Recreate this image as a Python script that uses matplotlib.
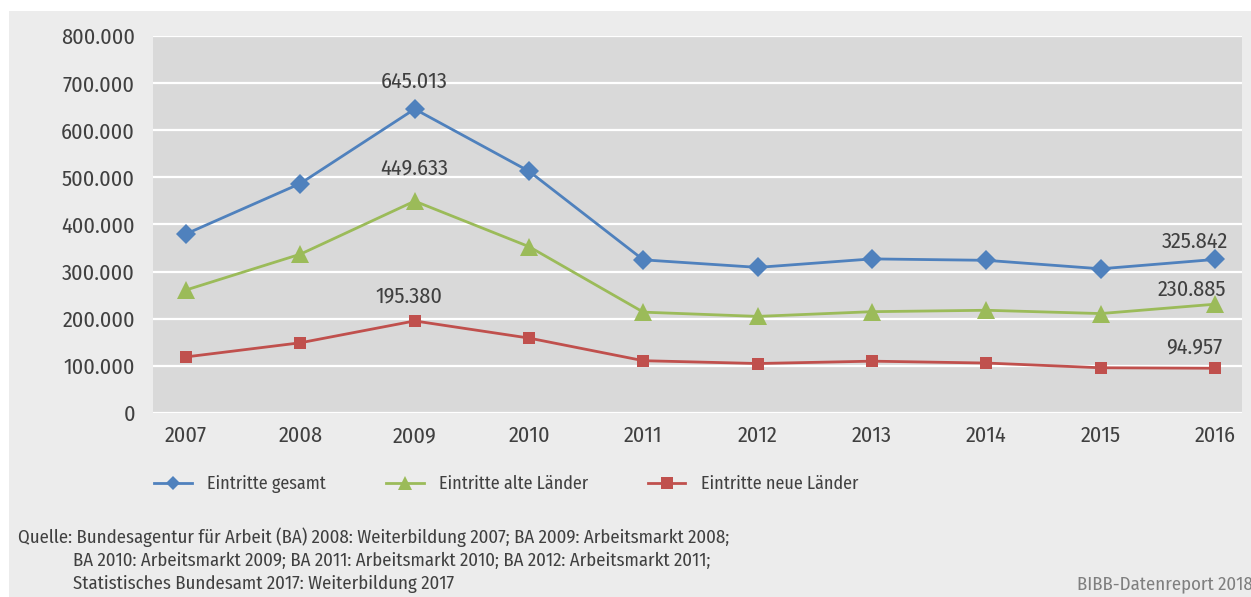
import matplotlib
matplotlib.use("Agg")
import matplotlib.pyplot as plt
from matplotlib.patches import Rectangle
from matplotlib.ticker import FuncFormatter

years = [2007, 2008, 2009, 2010, 2011, 2012, 2013, 2014, 2015, 2016]
gesamt = [380000, 487000, 645013, 513000, 325000, 309000, 327000, 324000, 306000, 325842]
alte = [261000, 337000, 449633, 353000, 214000, 205000, 215000, 218000, 211000, 230885]
neue = [119000, 149000, 195380, 159000, 111000, 105000, 110000, 106000, 96000, 94957]
series_names = ["Eintritte gesamt", "Eintritte alte Länder", "Eintritte neue Länder"]
yticks = [0, 100000, 200000, 300000, 400000, 500000, 600000, 700000, 800000]
source_lines = [
    "Quelle: Bundesagentur für Arbeit (BA) 2008: Weiterbildung 2007; BA 2009: Arbeitsmarkt 2008;",
    "BA 2010: Arbeitsmarkt 2009; BA 2011: Arbeitsmarkt 2010; BA 2012: Arbeitsmarkt 2011;",
    "Statistisches Bundesamt 2017: Weiterbildung 2017",
]
footer = "BIBB-Datenreport 2018"

W, H = 1251, 597
fig = plt.figure(figsize=(W / 100, H / 100), dpi=100, facecolor="white")
fig.patches.append(Rectangle((9 / W, 0), 1 - 9 / W, 1 - 11 / H, transform=fig.transFigure,
                             facecolor="#ececec", edgecolor="none", zorder=-10))

num_font = ["Fira Sans Condensed", "DejaVu Sans"]
txt_font = ["Fira Sans Condensed", "DejaVu Sans"]
txt_col = "#404040"
num_size = 16

ax = fig.add_axes([153 / W, 1 - 413 / H, (1242 - 153) / W, (413 - 36) / H])
ax.set_facecolor("#d9d9d9")
for s in ax.spines.values():
    s.set_visible(False)

def fmt(v, pos=None):
    return f"{int(round(v)):,}".replace(",", ".")

cols = ["#4f81bd", "#9bbb59", "#c0504d"]
markers = ["D", "^", "s"]
msizes = [10, 13, 8.5]
leg_msizes = [6.8, 9.5, 9]
data = [gesamt, alte, neue]
for vals, c, m, ms, name in zip(data, cols, markers, msizes, series_names):
    ax.plot(years, vals, color=c, lw=2.0, marker=m, markersize=ms,
            markeredgewidth=0, label=name, zorder=3, clip_on=False)

ax.set_ylim(0, 800000)
ax.set_xlim(2007 - 33 / 114.3, 2016 + 27 / 114.3)
ax.set_yticks(yticks)
ax.yaxis.set_major_formatter(FuncFormatter(fmt))
ax.set_xticks(years)
ax.grid(axis="y", color="white", lw=1.6, zorder=1)
ax.set_axisbelow(True)
ax.tick_params(length=0, labelcolor=txt_col)
ax.tick_params(axis="y", pad=13)
ax.tick_params(axis="x", pad=9)
for lab in ax.get_xticklabels() + ax.get_yticklabels():
    lab.set_fontfamily(num_font)
    lab.set_fontsize(num_size)

# data labels: (series index, year index, dx px, dy px)
label_spec = [(0, 2, 0, 27), (1, 2, 0, 33), (2, 2, -6, 25),
              (0, 9, -20, 18), (1, 9, -23, 14), (2, 9, -21, 21)]
for si, yi, dx, dy in label_spec:
    ax.annotate(fmt(data[si][yi]), (years[yi], data[si][yi]),
                xytext=(dx * 0.72, dy * 0.72), textcoords="offset points",
                ha="center", va="center", fontsize=num_size, family=num_font,
                color=txt_col, zorder=5)

leg = fig.legend(loc="center left", bbox_to_anchor=(154 / W, 1 - 484 / H), ncol=3,
                 frameon=False, prop={"family": txt_font, "size": 13},
                 handlelength=2.1, handletextpad=0.85, columnspacing=3.3,
                 borderpad=0, borderaxespad=0, labelcolor=txt_col)
for h, ms in zip(leg.legend_handles, leg_msizes):
    h.set_markersize(ms)

fig.text(18 / W, 1 - 537 / H, source_lines[0], family=txt_font, fontsize=13.5,
         color=txt_col, va="center", ha="left")
fig.text(73 / W, 1 - 561 / H, source_lines[1], family=txt_font, fontsize=13.5,
         color=txt_col, va="center", ha="left")
fig.text(73 / W, 1 - 584 / H, source_lines[2], family=txt_font, fontsize=13.5,
         color=txt_col, va="center", ha="left")
fig.text(1253 / W, 1 - 584 / H, footer, family=txt_font, fontsize=13.5,
         color="#7f7f7f", va="center", ha="right")

fig.savefig("out.png", dpi=100, facecolor="white")
